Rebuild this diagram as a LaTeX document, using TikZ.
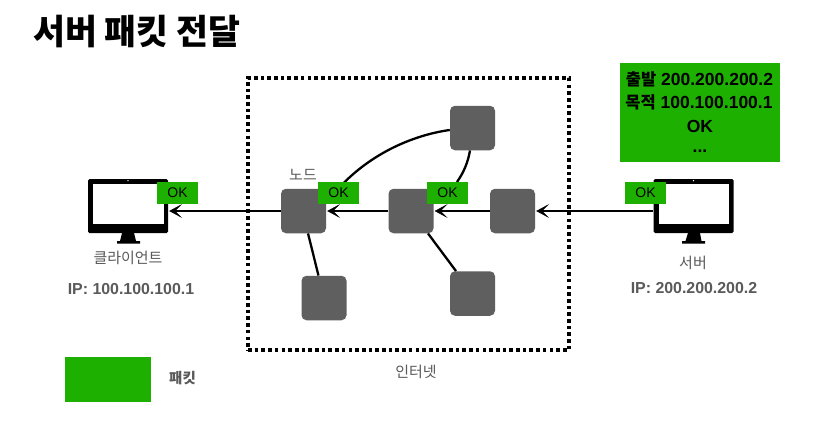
\documentclass[tikz,border=0pt]{standalone}
\usepackage{fontspec}
\setmainfont{Liberation Sans}
\newfontfamily\kr{Noto Sans CJK KR}
\usetikzlibrary{arrows.meta}
\definecolor{pktgreen}{HTML}{1EB000}
\definecolor{nodegrey}{HTML}{5F5F5F}
\definecolor{labelgrey}{HTML}{5A5A5A}
\tikzset{
  router/.style={draw=none,fill=nodegrey,rounded corners=5pt,minimum width=45pt,minimum height=44.5pt,inner sep=0pt},
  okbadge/.style={fill=pktgreen,minimum width=41pt,minimum height=22pt,inner sep=0pt,font=\fontsize{14}{15}\selectfont,text=black},
  flow/.style={line width=2.8pt,black,-{Stealth[inset=7pt,length=13pt,width=14pt,line width=.5pt,fill=black]},shorten >=1pt},
  link/.style={line width=2.3pt,black},
  label/.style={text=labelgrey,font=\fontsize{15}{17}\selectfont\kr,inner sep=0pt},
  iplabel/.style={text=labelgrey,font=\fontsize{15.9}{17}\selectfont\bfseries,inner sep=0pt},
  pkttext/.style={font=\fontsize{17.5}{19}\selectfont\bfseries,inner sep=0pt,text=black},
  screen/.style={fill=black,rounded corners=1.5pt,minimum width=80pt,minimum height=54pt,inner sep=0pt}
}
\begin{document}
\begin{tikzpicture}[x=1pt,y=-1pt]
\useasboundingbox (0,0) rectangle (827,421);
\fill[white] (0,0) rectangle (827,421);
\node[anchor=west,inner sep=0pt,font=\fontsize{34.7}{38}\selectfont\kr\bfseries] (title) at (33,32) {서버 패킷 전달};
% internet
\node[draw=black,line width=3.8pt,dash pattern=on 3.6pt off 3.1pt,minimum width=321pt,minimum height=272pt,inner sep=0pt] (net) at (408.5,214) {};
\node[label] (netlabel) at (416,372) {인터넷};
% nodes
\node[router] (n1) at (303.5,211) {};
\node[router] (n2) at (411,211) {};
\node[router] (n3) at (512.5,211) {};
\node[router] (n4) at (472.5,128) {};
\node[router] (n5) at (472.5,293.5) {};
\node[router] (n6) at (324,298) {};
% monitors
\node[screen] (client) at (128,206) {};
\fill[white] (93,183.5) rectangle (164,224);
\fill[white] (128,180.6) circle (.7pt);
\fill[black] (122,233) -- (134,233) -- (136,241) -- (140,241) -- (140,243.5) -- (117,243.5) -- (117,241) -- (120,241) -- cycle;
\node[screen] (server) at (693.5,206) {};
\fill[white] (659,183.5) rectangle (729,224);
\fill[white] (693.5,180.6) circle (.7pt);
\fill[black] (688,233) -- (700,233) -- (701.5,241) -- (705,241) -- (705,243.5) -- (682,243.5) -- (682,241) -- (685.5,241) -- cycle;
% links
\coordinate (a1) at ([yshift=-2pt]n4.west);
\coordinate (b1) at ([xshift=6pt,yshift=-7pt]n1.north east);
\coordinate (a2) at ([xshift=-2.5pt]n4.south);
\coordinate (b2) at ([xshift=23.5pt,yshift=7pt]n2.north east);
\coordinate (a3) at ([xshift=4.5pt]n1.south);
\coordinate (b3) at ([xshift=-5.5pt]n6.north);
\coordinate (a4) at ([xshift=17pt]n2.south);
\coordinate (b4) at ([xshift=-16.5pt]n5.north);
\draw[link] (a1) .. controls (420,134) and (370,150) .. (b1);
\draw[link] (a2) .. controls (468,162) and (464,172) .. (457,182);
\draw[link] (a3) -- (b3);
\draw[link] (a4) -- (b4);
% flows
\draw[flow] (server.west |- n3.east) -- (n3.east);
\draw[flow] (n3.west) -- (n2.east);
\draw[flow] (n2.west) -- (n1.east);
\draw[flow] (n1.west) -- (client.east |- n1.west);
% badges
\node[okbadge] (ok1) at (177.5,193) {OK};
\node[okbadge] (ok2) at (338.5,193) {OK};
\node[okbadge] (ok3) at (447.5,193) {OK};
\node[okbadge] (ok4) at (645.5,193) {OK};
% labels
\node[label] (nodelabel) at (303,175) {노드};
\node[label] (clientlabel) at (128,258) {클라이언트};
\node[iplabel] (clientip) at (131,289) {IP: 100.100.100.1};
\node[label] (serverlabel) at (693,263) {서버};
\node[iplabel] (serverip) at (694,288) {IP: 200.200.200.2};
% packet
\node[fill=pktgreen,minimum width=160pt,minimum height=99pt,inner sep=0pt] (packet) at (700,112.5) {};
\node[pkttext] (p1) at (699.5,79) {{\kr\fontsize{16.5}{19}\selectfont 출발} 200.200.200.2};
\node[pkttext] (p2) at (699,102.5) {{\kr\fontsize{16.5}{19}\selectfont 목적} 100.100.100.1};
\node[pkttext] (p3) at (700,126) {OK};
\node[pkttext,anchor=base] (p4) at (700,152) {...};
% legend
\node[fill=pktgreen,minimum width=86pt,minimum height=45pt,inner sep=0pt] (legend) at (108,379.5) {};
\node[label,font=\fontsize{14.5}{16}\selectfont\kr\bfseries] (legendlabel) at (182.5,378) {패킷};
\end{tikzpicture}
\end{document}
